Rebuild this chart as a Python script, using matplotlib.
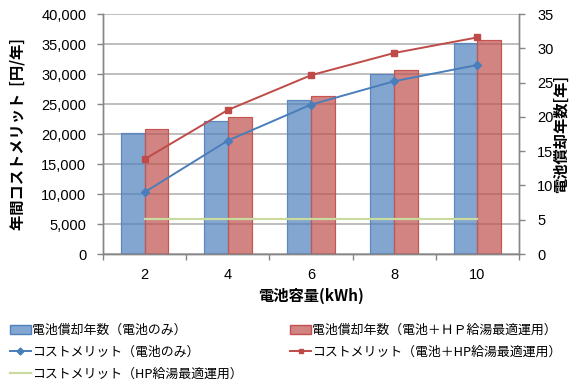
import matplotlib
matplotlib.use("Agg")
import matplotlib.pyplot as plt
from matplotlib.lines import Line2D
from matplotlib.patches import Patch
import numpy as np

categories = ["2", "4", "6", "8", "10"]
# 電池償却年数 [年] (right axis)
years_batt = [17.7, 19.4, 22.4, 26.3, 30.7]
years_batt_hp = [18.3, 20.0, 23.0, 26.9, 31.2]
# 年間コストメリット [円/年] (left axis)
merit_batt = [10300, 18900, 24900, 28800, 31500]
merit_batt_hp = [15800, 24000, 29800, 33500, 36100]
merit_hp = [5800, 5800, 5800, 5800, 5800]

left_ticks = [0, 5000, 10000, 15000, 20000, 25000, 30000, 35000, 40000]
right_ticks = [0, 5, 10, 15, 20, 25, 30, 35]

JP = ['Noto Sans CJK JP', 'DejaVu Sans']
NUM = ['Liberation Sans', 'DejaVu Sans']

fig = plt.figure(figsize=(5.82, 3.81), dpi=100)
pos = [103/582, 1-254/381, (519-103)/582, (254-14)/381]
ax1 = fig.add_axes(pos)
ax2 = ax1.twinx()
ax3 = fig.add_axes(pos, sharex=ax1, sharey=ax1)
ax1.set_zorder(0)
ax2.set_zorder(1)
ax3.set_zorder(2)
ax2.patch.set_visible(False)
ax3.patch.set_visible(False)
ax3.axis('off')

x = np.arange(len(categories))
bw = 0.287
blue_face = '#4F81BD'
red_face = '#C0504D'
ax2.bar(x - bw/2, years_batt, bw, color=blue_face, alpha=0.7, edgecolor='#4F81BD', linewidth=0.8)
ax2.bar(x + bw/2, years_batt_hp, bw, color=red_face, alpha=0.7, edgecolor='#C0504D', linewidth=0.8)
ax2.bar(x - bw/2, years_batt, bw, fill=False, edgecolor='#5B86C0', linewidth=0.8)
ax2.bar(x + bw/2, years_batt_hp, bw, fill=False, edgecolor='#C65552', linewidth=0.8)

ax3.plot(x, merit_batt, color='#4A7EBB', linewidth=1.4, marker='D', markersize=4)
ax3.plot(x, merit_batt_hp, color='#BE4B48', linewidth=1.4, marker='s', markersize=4)
ax3.plot(x, merit_hp, color='#C9DB9F', linewidth=1.6)

ax1.set_xlim(-0.5, len(categories) - 0.5)
ax1.set_ylim(0, 40000)
ax2.set_ylim(0, 35)
ax1.set_yticks(left_ticks)
ax1.set_yticklabels([f"{v:,}" for v in left_ticks], family=NUM, fontsize=10.5)
ax2.set_yticks(right_ticks)
ax2.set_yticklabels([str(v) for v in right_ticks], family=NUM, fontsize=10.5)
ax1.set_xticks(x)
ax1.set_xticklabels(categories, family=NUM, fontsize=10.5)
ax1.set_xticks(np.arange(-0.5, len(categories)), minor=True)
ax1.tick_params(axis='x', which='major', length=0, pad=10)
ax1.tick_params(axis='x', which='minor', length=4, color='#868686', width=1)
ax1.tick_params(axis='y', length=4, color='#868686', width=1, pad=8)
ax2.tick_params(axis='y', length=4, color='#868686', width=1, pad=9)

ax1.grid(axis='y', color='#B3B3B3', linewidth=1.2)
ax1.set_axisbelow(True)
for a in (ax1, ax2):
    a.spines['top'].set_visible(False)
    for s in ['left', 'right', 'bottom']:
        a.spines[s].set_color('#868686')
        a.spines[s].set_linewidth(1)

ax1.set_ylabel('年間コストメリット  [円/年]', family=JP, fontsize=11, fontweight='bold', labelpad=11)
ax2.set_ylabel('電池償却年数[年]', family=JP, fontsize=11, fontweight='bold', labelpad=0)
ax1.set_xlabel('電池容量(kWh)', family=JP, fontsize=11, fontweight='bold', labelpad=4)

handles = [
    Patch(facecolor='#83A6D0', edgecolor='#4F81BD'),
    Line2D([], [], color='#4A7EBB', marker='D', markersize=3.5, linewidth=1.4),
    Line2D([], [], color='#C9DB9F', linewidth=1.6),
    Patch(facecolor='#D28482', edgecolor='#C0504D'),
    Line2D([], [], color='#BE4B48', marker='s', markersize=3.5, linewidth=1.4),
]
labels = [
    '電池償却年数（電池のみ）',
    'コストメリット（電池のみ）',
    'コストメリット（HP給湯最適運用）',
    '電池償却年数（電池＋ＨＰ給湯最適運用）',
    'コストメリット（電池＋HP給湯最適運用）',
]
fig.legend(handles, labels, loc='upper left', bbox_to_anchor=(10/582, 1-324/381),
           ncol=2, frameon=False, prop={'family': JP, 'size': 9.3},
           handlelength=1.6, handletextpad=0.1, columnspacing=3.7,
           labelspacing=0.68, borderpad=0, borderaxespad=0)

fig.savefig('out.png', dpi=100)
